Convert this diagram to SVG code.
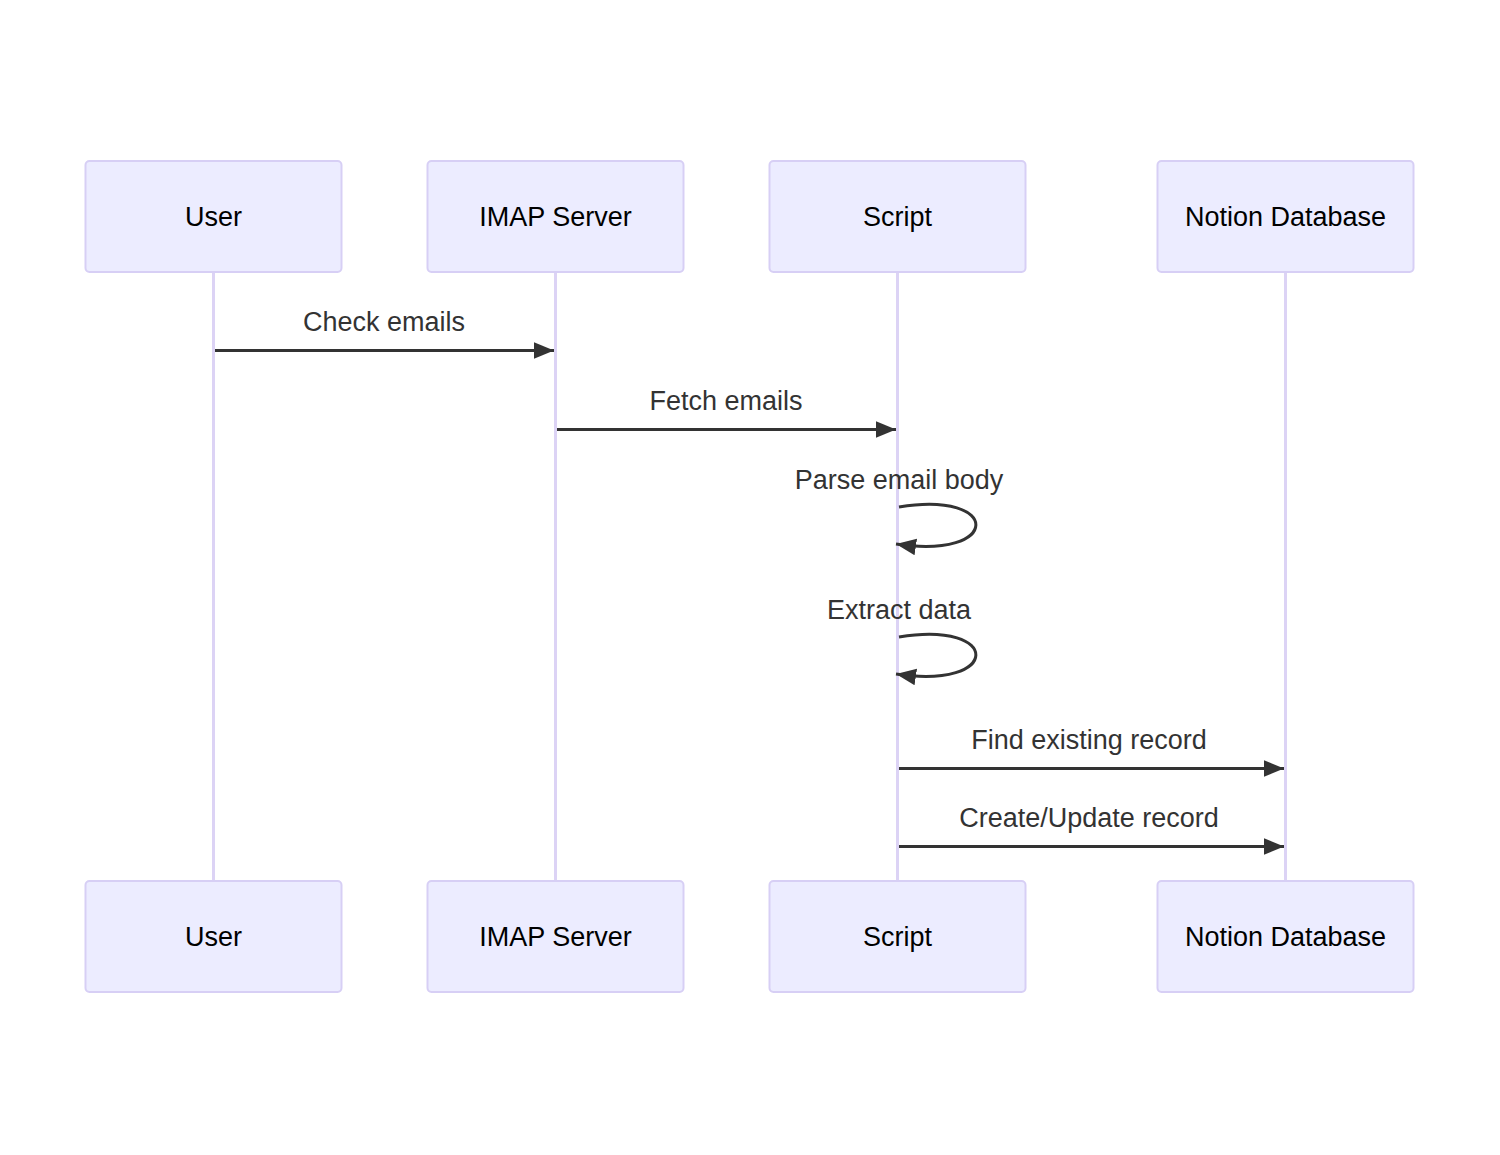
<svg xmlns="http://www.w3.org/2000/svg" width="1500" height="1155" viewBox="0 0 1500 1155">
<style>
.actor{fill:#ECECFF;stroke:#D7CFF5;stroke-width:2}
.atext{font-family:"Liberation Sans",Arial,sans-serif;font-size:27px;fill:#000;text-anchor:middle;dominant-baseline:central}
.life{stroke:#DCD3F5;stroke-width:3}
.msg{stroke:#333;stroke-width:3;fill:none}
.mtext{font-family:"Liberation Sans",Arial,sans-serif;font-size:27px;fill:#333;text-anchor:middle;dominant-baseline:central}
</style>
<defs>
<marker id="arrow" viewBox="0 0 12 10" refX="12" refY="5" markerUnits="userSpaceOnUse" markerWidth="20" markerHeight="17" orient="auto">
<path d="M0,0 L12,5 L0,10 z" fill="#333"/>
</marker>
</defs>
<rect width="1500" height="1155" fill="#fff"/>
<g id="lifelines">
<line class="life" x1="213.5" y1="272" x2="213.5" y2="881"/>
<line class="life" x1="555.5" y1="272" x2="555.5" y2="881"/>
<line class="life" x1="897.5" y1="272" x2="897.5" y2="881"/>
<line class="life" x1="1285.5" y1="272" x2="1285.5" y2="881"/>
</g>
<g id="actor-user-top"><rect class="actor" x="85.5" y="161" width="256" height="111" rx="4"/><text class="atext" x="213.5" y="217">User</text></g>
<g id="actor-imap-top"><rect class="actor" x="427.5" y="161" width="256" height="111" rx="4"/><text class="atext" x="555.5" y="217">IMAP Server</text></g>
<g id="actor-script-top"><rect class="actor" x="769.5" y="161" width="256" height="111" rx="4"/><text class="atext" x="897.5" y="217">Script</text></g>
<g id="actor-notion-top"><rect class="actor" x="1157.5" y="161" width="256" height="111" rx="4"/><text class="atext" x="1285.5" y="217">Notion Database</text></g>
<g id="actor-user-bottom"><rect class="actor" x="85.5" y="881" width="256" height="111" rx="4"/><text class="atext" x="213.5" y="937">User</text></g>
<g id="actor-imap-bottom"><rect class="actor" x="427.5" y="881" width="256" height="111" rx="4"/><text class="atext" x="555.5" y="937">IMAP Server</text></g>
<g id="actor-script-bottom"><rect class="actor" x="769.5" y="881" width="256" height="111" rx="4"/><text class="atext" x="897.5" y="937">Script</text></g>
<g id="actor-notion-bottom"><rect class="actor" x="1157.5" y="881" width="256" height="111" rx="4"/><text class="atext" x="1285.5" y="937">Notion Database</text></g>
<g id="messages">
<line class="msg" x1="215" y1="350.5" x2="554" y2="350.5" marker-end="url(#arrow)"/>
<text class="mtext" x="384" y="322">Check emails</text>
<line class="msg" x1="557" y1="429.5" x2="896" y2="429.5" marker-end="url(#arrow)"/>
<text class="mtext" x="726" y="401">Fetch emails</text>
<text class="mtext" x="899" y="480">Parse email body</text>
<path class="msg" d="M899,507 C1002,490 1002,560 896,544" marker-end="url(#arrow)"/>
<text class="mtext" x="899" y="610">Extract data</text>
<path class="msg" d="M899,637 C1002,620 1002,690 896,674" marker-end="url(#arrow)"/>
<line class="msg" x1="899" y1="768.5" x2="1284" y2="768.5" marker-end="url(#arrow)"/>
<text class="mtext" x="1089" y="740">Find existing record</text>
<line class="msg" x1="899" y1="846.5" x2="1284" y2="846.5" marker-end="url(#arrow)"/>
<text class="mtext" x="1089" y="818">Create/Update record</text>
</g>
</svg>
